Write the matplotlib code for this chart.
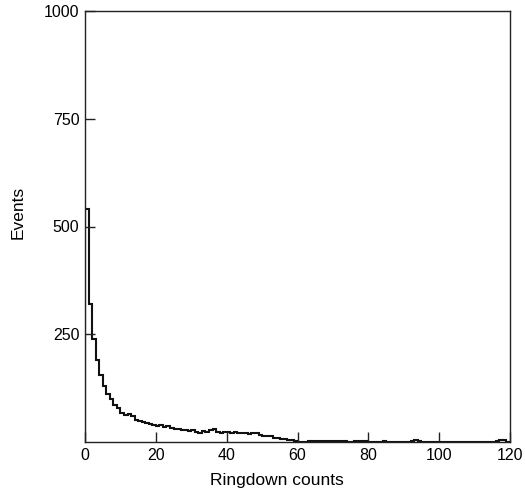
import numpy as np
import matplotlib
matplotlib.use("Agg")
import matplotlib.pyplot as plt

# histogram: bin width 1 ringdown count, 0..120
counts = [540, 320, 240, 190, 155, 130, 112, 100, 85, 78, 68, 62, 66, 60, 50, 48, 46, 45, 42, 40,
          36, 40, 34, 37, 32, 30, 31, 28, 29, 26, 27, 24, 22, 25, 23, 28, 30, 24, 22, 23,
          24, 22, 24, 21, 22, 20, 18, 20, 22, 16, 15, 14, 15, 10, 10, 8, 6, 5, 4, 2,
          1, 0, 1, 2, 3, 2, 2, 2, 3, 3, 2, 2, 3, 2, 1, 1, 2, 3, 3, 2,
          1, 1, 1, 1, 2, 1, 1, 1, 1, 0, 1, 1, 3, 5, 2, 1, 1, 1, 1, 1,
          1, 1, 1, 1, 1, 1, 1, 1, 1, 1, 1, 1, 1, 1, 1, 1, 2, 5, 4, 1]
edges = np.arange(0, len(counts) + 1)
xticks = [0, 20, 40, 60, 80, 100, 120]
yticks = [250, 500, 750, 1000]

plt.rcParams['font.family'] = ['Liberation Sans', 'DejaVu Sans']
fig = plt.figure(figsize=(5.25, 4.92), dpi=100)
ax = fig.add_axes([85/525, 1 - 442/492, (510-85)/525, (442-11)/492])
ax.stairs(counts, edges, baseline=0, color='#111111', lw=1.5)
ax.set_xlim(0, 120)
ax.set_ylim(0, 1000)
ax.set_xticks(xticks)
ax.set_yticks(yticks)
ax.tick_params(direction='in', length=7, width=1.0, labelsize=11.5, color='#222222', pad=4)
for s in ax.spines.values():
    s.set_linewidth(1.0)
    s.set_color('#222222')
ax.set_xlabel('Ringdown counts', fontsize=12.5)
ax.set_ylabel('Events', fontsize=12.5)
ax.xaxis.set_label_coords((277 - 85) / (510 - 85), -(480 - 442) / (442 - 11), transform=ax.transAxes)
ax.yaxis.set_label_coords(-(85 - 18) / (510 - 85), (442 - 212) / (442 - 11), transform=ax.transAxes)
ax.xaxis.label.set_va('center')
ax.yaxis.label.set_va('center')
fig.savefig('out.png', dpi=100)
